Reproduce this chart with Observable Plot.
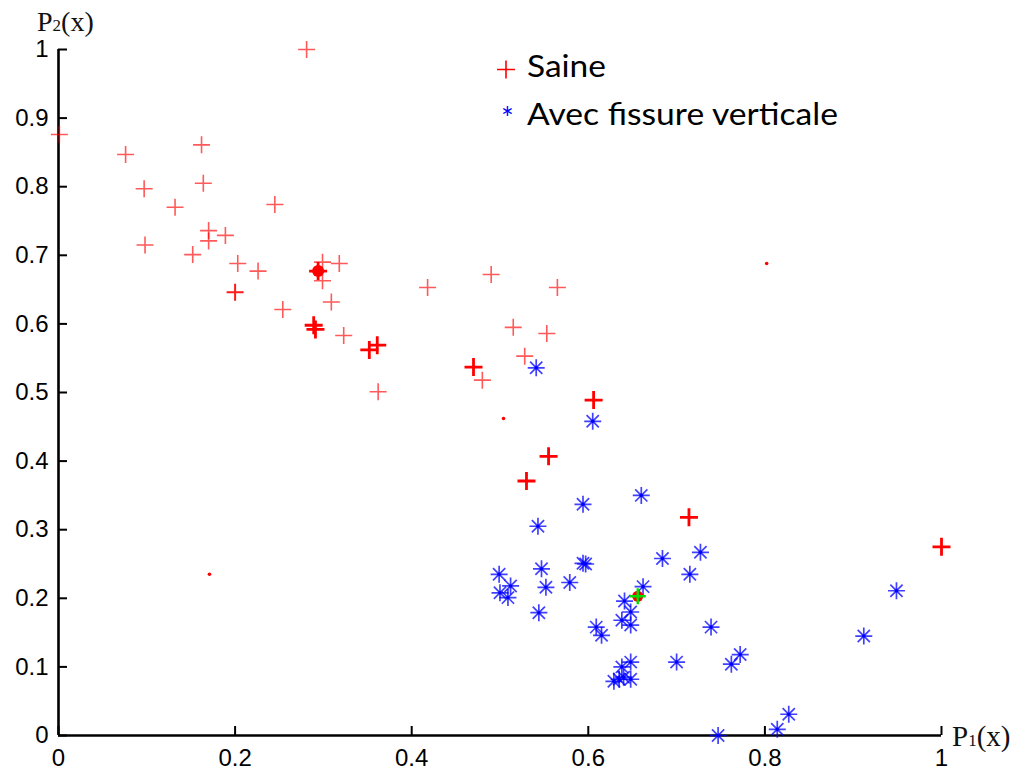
<!DOCTYPE html>
<html><head><meta charset="utf-8">
<script src="https://cdn.jsdelivr.net/npm/d3@7"></script>
<script src="https://cdn.jsdelivr.net/npm/@observablehq/plot@0.6"></script>
<style>
body{margin:0;background:#fff}
#wrap{position:relative;width:1017px;height:774px}
#over{position:absolute;left:0;top:0;pointer-events:none}
</style></head><body>
<div id="wrap"></div>
<script>
// ---- data ----
const saineX = [0.281,0.001,0.076,0.162,0.097,0.164,0.132,0.245,0.098,0.170,0.170,0.189,0.152,0.203,0.226,0.254,0.299,0.318,0.299,0.309,0.323,0.362,0.418,0.490,0.565,0.515,0.553,0.528,0.480];
const saineY = [1.000,0.876,0.847,0.861,0.797,0.805,0.770,0.774,0.715,0.736,0.721,0.729,0.701,0.688,0.677,0.621,0.690,0.688,0.663,0.632,0.583,0.501,0.653,0.672,0.653,0.595,0.586,0.553,0.518];
const saineMidX = [0.200];
const saineMidY = [0.646];
const saineBoldX = [0.289,0.291,0.352,0.361,0.470,0.606,0.555,0.530,0.714,1.000,0.294];
const saineBoldY = [0.598,0.592,0.562,0.569,0.537,0.489,0.407,0.371,0.318,0.275,0.677];
const fissX = [0.541,0.605,0.594,0.660,0.543,0.684,0.727,0.715,0.594,0.597,0.547,0.499,0.512,0.552,0.579,0.500,0.509,0.662,0.641,0.648,0.544,0.638,0.648,0.609,0.615,0.739,0.648,0.638,0.700,0.772,0.762,0.629,0.635,0.640,0.648,0.747,0.814,0.827,0.949,0.912];
const fissY = [0.536,0.458,0.337,0.350,0.305,0.258,0.267,0.235,0.251,0.250,0.243,0.235,0.218,0.216,0.223,0.208,0.201,0.217,0.196,0.180,0.179,0.168,0.161,0.158,0.146,0.158,0.107,0.100,0.107,0.118,0.104,0.079,0.082,0.085,0.082,0.000,0.009,0.031,0.211,0.145];
const bigDotX = [0.294], bigDotY = [0.677];
const greenX = [0.656], greenY = [0.203];
const smallDotX = [0.171,0.504,0.802], smallDotY = [0.235,0.462,0.688];
const xTicks = [0,0.2,0.4,0.6,0.8,1];
const yTicks = [0,0.1,0.2,0.3,0.4,0.5,0.6,0.7,0.8,0.9,1];
const tickLabel = d => d === 0 ? "0" : d === 1 ? "1" : String(+d.toFixed(1));
const legendLabels = ["Saine","Avec fissure verticale"];

const pts = (xs, ys) => xs.map((x,i) => ({x, y: ys[i]}));

// ---- custom symbols ----
const plusSym = {draw(c, size){ const r = Math.sqrt(size/Math.PI); c.moveTo(-r,0); c.lineTo(r,0); c.moveTo(0,-r); c.lineTo(0,r); }};
const starSym = {draw(c, size){ const r = Math.sqrt(size/Math.PI), d = r*0.72;
  c.moveTo(-r,0); c.lineTo(r,0); c.moveTo(0,-r); c.lineTo(0,r);
  c.moveTo(-d,-d); c.lineTo(d,d); c.moveTo(-d,d); c.lineTo(d,-d); }};

const W = 1017, H = 774, mL = 58, mR = 76, mT = 49, mB = 39;
const frameW = W - mL - mR, frameH = H - mT - mB;

const chart = Plot.plot({
  width: W, height: H,
  marginLeft: mL, marginRight: mR, marginTop: mT, marginBottom: mB,
  x: {domain: [0,1]},
  y: {domain: [0,1]},
  style: {fontFamily: "'Liberation Sans', Arial, sans-serif", fontSize: "24px", color: "black", background: "white"},
  marks: [
    Plot.axisX(xTicks, {tickSize: 0, tickPadding: 13, tickFormat: tickLabel, fontSize: 24, label: null}),
    Plot.axisY(yTicks, {tickSize: 0, tickPadding: 10, tickFormat: tickLabel, fontSize: 24, label: null}),
    Plot.tickX(xTicks, {x: d => d, stroke: "black", strokeWidth: 2, insetTop: frameH - 9}),
    Plot.tickY(yTicks, {y: d => d, stroke: "black", strokeWidth: 2, insetRight: frameW - 9}),
    Plot.ruleX([0], {stroke: "black", strokeWidth: 2.6}),
    Plot.ruleY([0], {stroke: "black", strokeWidth: 2.6}),
    Plot.dot(pts(saineX, saineY), {x: "x", y: "y", symbol: plusSym, r: 8.5, fill: "none", stroke: "#ff0000", strokeWidth: 1.6, strokeOpacity: 0.65}),
    Plot.dot(pts(saineMidX, saineMidY), {x: "x", y: "y", symbol: plusSym, r: 8.5, fill: "none", stroke: "#ff0000", strokeWidth: 2, strokeOpacity: 0.9}),
    Plot.dot(pts(bigDotX, bigDotY), {x: "x", y: "y", r: 6, fill: "#ff0000", stroke: "none"}),
    Plot.dot(pts(saineBoldX, saineBoldY), {x: "x", y: "y", symbol: plusSym, r: 9, fill: "none", stroke: "#ff0000", strokeWidth: 2.8}),
    Plot.dot(pts(fissX, fissY), {x: "x", y: "y", symbol: starSym, r: 8.5, fill: "none", stroke: "#0000ff", strokeWidth: 1.7, strokeOpacity: 0.75}),
    Plot.dot(pts(fissX, fissY), {x: "x", y: "y", r: 1.8, fill: "#0000ff", stroke: "none"}),
    Plot.dot(pts(greenX, greenY), {x: "x", y: "y", r: 5.5, fill: "#ff0000", stroke: "none"}),
    Plot.dot(pts(greenX, greenY), {x: "x", y: "y", symbol: plusSym, r: 8, fill: "none", stroke: "#00e000", strokeWidth: 2.4}),
    Plot.dot(pts(smallDotX, smallDotY), {x: "x", y: "y", r: 1.8, fill: "#ff0000", stroke: "none"})
  ]
});
const wrap = document.getElementById("wrap");
wrap.appendChild(chart);

// overlay: axis labels + legend
const ns = "http://www.w3.org/2000/svg";
const over = document.createElementNS(ns, "svg");
over.setAttribute("id","over"); over.setAttribute("width", W); over.setAttribute("height", H);
over.innerHTML = `
  <text x="37" y="31" font-family="'Liberation Serif', 'Times New Roman', serif" font-size="28" fill="#111">P<tspan font-size="17">2</tspan>(x)</text>
  <text x="952" y="746" font-family="'Liberation Serif', 'Times New Roman', serif" font-size="29" fill="#111">P<tspan font-size="17">1</tspan>(x)</text>
  <path d="M497,69.5H515M506,60.5V78.5" stroke="#ff0000" stroke-width="1.6" fill="none"/>
  <text x="527" y="77" font-family="Lato, 'Open Sans', sans-serif" font-size="31" textLength="79" lengthAdjust="spacingAndGlyphs" fill="#000">${legendLabels[0]}</text>
  <text x="501" y="129" font-family="Lato, 'Open Sans', sans-serif" font-size="30" fill="#0000ff">*</text>
  <text x="527" y="125" font-family="Lato, 'Open Sans', sans-serif" font-size="31" textLength="311" lengthAdjust="spacingAndGlyphs" fill="#000">${legendLabels[1]}</text>
`;
wrap.appendChild(over);
</script>
</body></html>
